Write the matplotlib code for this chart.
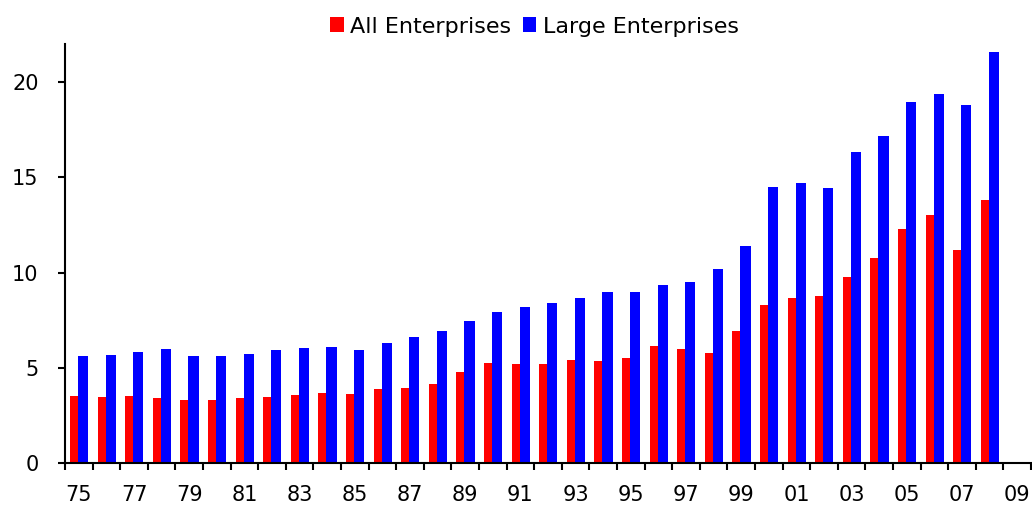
import numpy as np
import matplotlib
matplotlib.use("Agg")
import matplotlib.pyplot as plt

plt.rcParams['font.family'] = ['DejaVu Sans']

years = list(range(1975, 2009))
all_ent = [3.52, 3.48, 3.52, 3.38, 3.32, 3.29, 3.41, 3.46, 3.57, 3.67,
           3.62, 3.88, 3.94, 4.15, 4.78, 5.25, 5.20, 5.20, 5.41, 5.35,
           5.51, 6.14, 5.98, 5.77, 6.93, 8.29, 8.68, 8.77, 9.75, 10.75,
           12.27, 13.00, 11.18, 13.80]
large_ent = [5.62, 5.69, 5.83, 5.97, 5.62, 5.62, 5.72, 5.93, 6.04, 6.07,
             5.93, 6.30, 6.61, 6.93, 7.45, 7.93, 8.19, 8.40, 8.66, 8.96,
             8.99, 9.36, 9.49, 10.17, 11.39, 14.47, 14.73, 14.44, 16.34, 17.20,
             18.97, 19.37, 18.78, 21.60]
tick_years = list(range(1975, 2010, 2))

x = np.array(years) - 1900

fig = plt.figure(figsize=(10.32, 5.08), dpi=100)
ax = fig.add_axes([0.063, 0.089, 0.936, 0.824])

ax.bar(x - 0.135, all_ent, width=0.37, color='#ff0000', label='All Enterprises')
ax.bar(x + 0.155, large_ent, width=0.37, color='#0000ff', label='Large Enterprises')

ax.set_xlim(74.5, 109.5)
ax.set_ylim(0, 22.0)
ax.set_yticks([0, 5, 10, 15, 20])

# labels at year centres, tick marks at year boundaries
ax.set_xticks([y - 1900 for y in tick_years])
ax.set_xticklabels(['%02d' % (y % 100) for y in tick_years])
ax.tick_params(axis='x', which='major', length=0, pad=16)
ax.set_xticks(np.arange(74.5, 110, 1), minor=True)
ax.tick_params(axis='x', which='minor', length=5, width=1.5, direction='out')
ax.tick_params(axis='y', length=5, width=1.5, direction='out', pad=14)
ax.tick_params(labelsize=15)

for s in ['top', 'right']:
    ax.spines[s].set_visible(False)
for s in ['left', 'bottom']:
    ax.spines[s].set_linewidth(1.5)

fig.legend(loc='upper center', bbox_to_anchor=(0.518, 1.0), ncol=2, frameon=False,
           fontsize=16, handlelength=0.62, handleheight=0.65, handletextpad=0.3,
           columnspacing=0.5, borderaxespad=0.35)

fig.savefig('out.png', dpi=100)
